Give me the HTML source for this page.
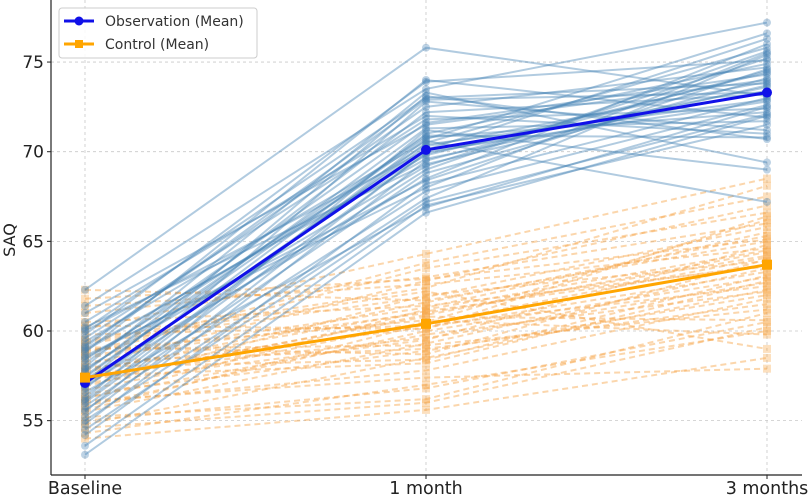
<!DOCTYPE html>
<html><head><meta charset="utf-8">
<style>
body{margin:0;background:#fff;}
svg{display:block;font-family:"DejaVu Sans","Liberation Sans",sans-serif;}
</style></head>
<body>
<svg id="chart" width="809" height="496"></svg>
<script>
const categories=["Baseline","1 month","3 months"];
const yTicks=[55,60,65,70,75];
const obsBase=[53.1,53.6,54.2,54.8,55.0,55.2,55.5,55.8,56.0,56.2,56.4,56.6,56.8,57.0,57.1,57.3,57.5,57.7,57.9,58.0,58.2,58.4,58.6,58.8,59.0,59.2,59.4,59.6,59.8,60.0,60.2,60.5,61.0,61.4,62.3,55.6,56.9,57.8,58.5,59.1,54.5,56.1,57.4,58.9,60.1];
const obs1m=[66.6,67.0,68.2,69.5,67.4,70.0,71.2,68.8,69.9,72.8,70.5,66.9,71.0,70.3,73.1,68.5,70.8,72.2,69.2,73.3,71.6,70.4,68.0,74.0,69.6,72.5,70.6,71.8,73.9,70.1,69.3,72.0,71.5,73.5,75.8,67.8,69.0,70.9,68.4,72.9,67.2,70.7,71.3,69.8,73.0];
const obs3m=[72.0,71.5,73.0,74.5,75.4,72.8,69.0,74.1,73.6,71.2,75.8,72.5,74.9,73.9,70.7,76.0,72.2,73.2,75.2,69.4,74.3,72.9,75.5,71.9,73.4,74.7,67.2,72.4,75.1,76.3,73.7,71.0,74.0,77.2,73.1,72.6,75.6,70.8,74.6,73.3,72.1,76.6,71.7,74.4,73.8];
const ctlBase=[54.0,54.3,54.8,55.2,55.5,55.8,56.0,56.2,56.5,56.7,56.9,57.1,57.3,57.5,57.7,57.9,58.1,58.3,58.5,58.7,58.9,59.1,59.3,59.5,59.8,60.1,60.5,61.0,61.4,62.3,55.0,56.3,57.2,58.0,58.6,59.4,60.3,57.6,56.1,58.8,55.6,57.8,59.0,54.6,61.8];
const ctl1m=[55.6,57.0,58.5,56.2,59.3,60.0,57.8,61.2,58.9,60.5,62.0,59.5,60.8,58.2,61.6,60.2,62.8,59.0,61.0,63.5,60.6,58.7,61.9,62.4,60.3,64.3,61.4,63.0,62.6,61.7,56.8,59.8,60.9,58.4,61.3,62.2,60.1,59.6,57.4,63.8,60.4,61.1,59.2,56.0,62.9];
const ctl3m=[58.5,60.0,62.3,61.0,63.5,63.0,61.8,64.5,62.0,66.2,63.9,64.8,60.6,62.8,65.3,63.3,67.0,61.5,64.2,66.6,59.8,64.0,65.8,68.1,62.5,68.5,63.6,66.0,64.6,65.0,60.5,62.2,64.4,63.1,65.5,59.0,66.4,62.7,57.9,67.5,64.1,63.7,61.2,60.2,65.1];
const obsMean=[57.1,70.1,73.3];
const ctlMean=[57.4,60.4,63.7];

const NS="http://www.w3.org/2000/svg";
const svg=document.getElementById('chart');
const X0=51,X1=802,Y0=475,YT=0;
function xS(i){return 85+i*341;}
function yS(v){return 331-(v-60)*17.93;}
function mk(t,a,p){const e=document.createElementNS(NS,t);for(const k in a)e.setAttribute(k,a[k]);(p||svg).appendChild(e);return e;}

const grid=mk('g',{});


yTicks.forEach(v=>{mk('line',{x1:X0,x2:X1,y1:yS(v),y2:yS(v),stroke:'#c8c8c8','stroke-dasharray':'3,3','stroke-width':0.8},grid);});
categories.forEach((c,i)=>{mk('line',{x1:xS(i),x2:xS(i),y1:YT,y2:Y0,stroke:'#c8c8c8','stroke-dasharray':'3,3','stroke-width':0.8},grid);});

function series(b,m,t,color,dash,marker,name,op){
  const g=mk('g',{});
  
  
  for(let i=0;i<b.length;i++){
    const vals=[b[i],m[i],t[i]];
    const pts=vals.map((v,j)=>xS(j)+','+yS(v)).join(' ');
    const pl=mk('polyline',{points:pts,fill:'none',stroke:color,'stroke-width':2,'stroke-opacity':op,'stroke-dasharray':dash||'none'},g);
    
    
    vals.forEach((v,j)=>{
      if(marker==='c')mk('circle',{cx:xS(j),cy:yS(v),r:4,fill:color,'fill-opacity':0.35},g);
      else mk('rect',{x:xS(j)-4,y:yS(v)-4,width:8,height:8,fill:color,'fill-opacity':0.35},g);
    });
  }
}
series(ctlBase,ctl1m,ctl3m,'#f7a548','6,4','s','control-subjects',0.45);
series(obsBase,obs1m,obs3m,'#4682b4',null,'c','observation-subjects',0.42);

function meanLine(vals,color,marker,name){
  const g=mk('g',{});
  
  
  mk('polyline',{points:vals.map((v,j)=>xS(j)+','+yS(v)).join(' '),fill:'none',stroke:color,'stroke-width':3},g);
  vals.forEach((v,j)=>{
    if(marker==='c')mk('circle',{cx:xS(j),cy:yS(v),r:5,fill:color},g);
    else mk('rect',{x:xS(j)-5,y:yS(v)-5,width:10,height:10,fill:color},g);
  });
}
meanLine(obsMean,'#1010e8','c','observation-mean-line');
meanLine(ctlMean,'#ffa500','s','control-mean-line');

const ax=mk('g',{});


mk('line',{x1:X0,x2:X0,y1:YT,y2:Y0,stroke:'#222','stroke-width':1.2},ax);
mk('line',{x1:X0,x2:X1,y1:Y0,y2:Y0,stroke:'#222','stroke-width':1.2},ax);
yTicks.forEach(v=>{
  mk('line',{x1:X0-4,x2:X0,y1:yS(v),y2:yS(v),stroke:'#222'},ax);
  const t=mk('text',{x:X0-7,y:yS(v)+6,'text-anchor':'end','font-size':17,fill:'#222'},ax);
  t.textContent=v;
  
  
});
categories.forEach((c,i)=>{
  mk('line',{x1:xS(i),x2:xS(i),y1:Y0,y2:Y0+4,stroke:'#222'},ax);
  const t=mk('text',{x:xS(i),y:Y0+19,'text-anchor':'middle','font-size':17.5,fill:'#222'},ax);
  t.textContent=c;
  
  
});
const yt=mk('text',{x:15,y:240,'text-anchor':'middle','font-size':16,fill:'#222',transform:'rotate(-90 15 240)'});
yt.textContent='SAQ';



const lg=mk('g',{});


mk('rect',{x:59,y:8,width:198,height:50,rx:3,fill:'#fff','fill-opacity':0.85,stroke:'#ccc'},lg);
mk('line',{x1:64,x2:94,y1:21,y2:21,stroke:'#1010e8','stroke-width':3},lg);
mk('circle',{cx:79,cy:21,r:4.5,fill:'#1010e8'},lg);
const l1=mk('text',{x:105,y:26,'font-size':14,fill:'#333'},lg);l1.textContent='Observation (Mean)';


mk('line',{x1:64,x2:94,y1:44,y2:44,stroke:'#ffa500','stroke-width':3},lg);
mk('rect',{x:75,y:40,width:8,height:8,fill:'#ffa500'},lg);
const l2=mk('text',{x:105,y:49,'font-size':14,fill:'#333'},lg);l2.textContent='Control (Mean)';


</script>
</body></html>
